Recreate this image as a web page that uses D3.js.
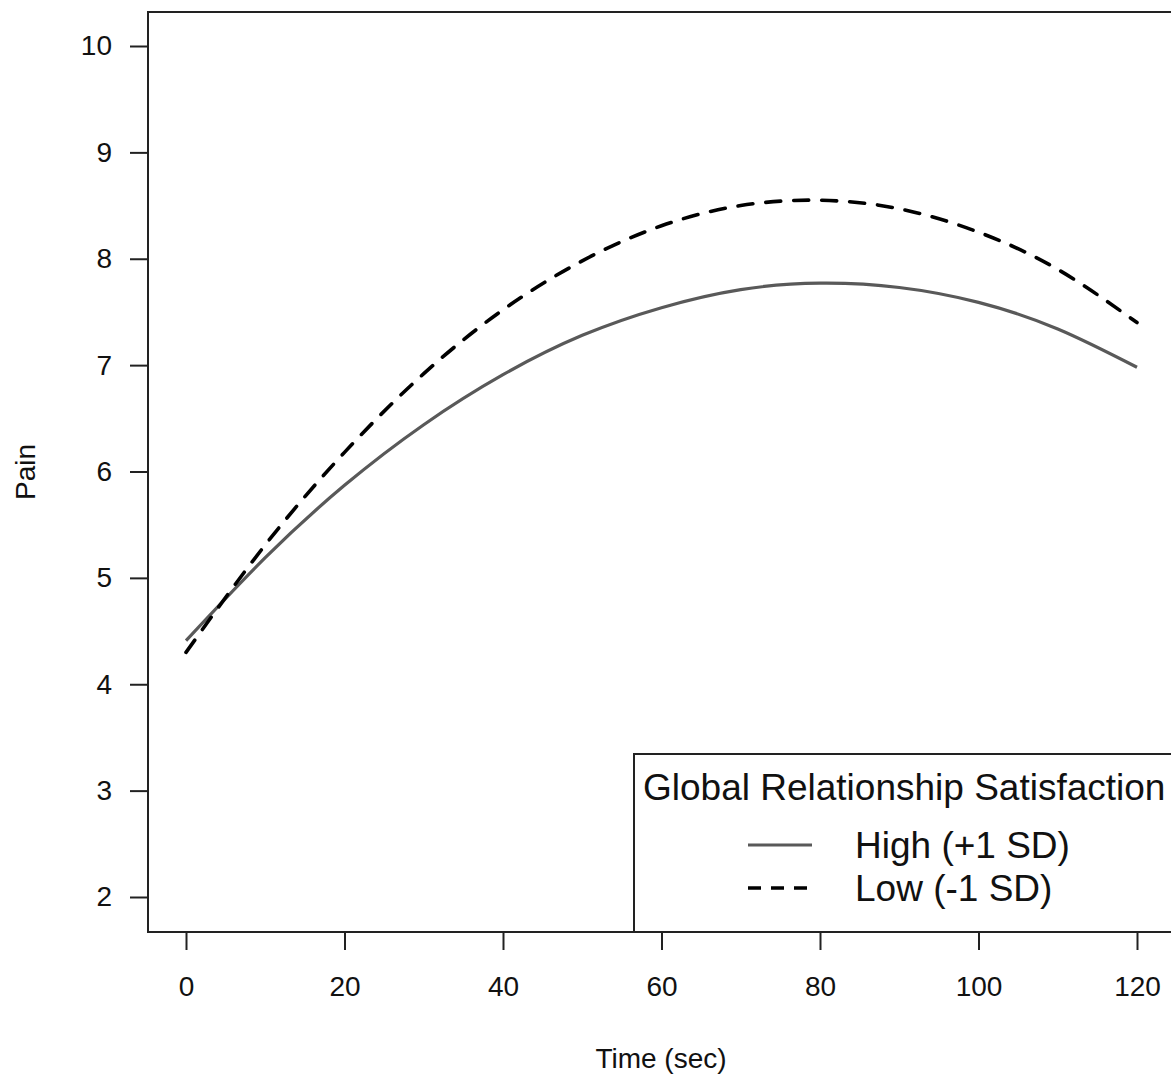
<html>
<script src='https://d3js.org/d3.v7.min.js'></script>
<style>
    body {
        margin: 0;
        overflow: hidden;
        background: white;
        font-family: 'Liberation Sans', Arial, sans-serif;
    }
</style>

<body>
    <svg id='chart' width=1171 height=1074></svg>
</body>

<script>
    // values, every 10 sec
    var times = [0, 10, 20, 30, 40, 50, 60, 70, 80, 90, 100, 110, 120];
    var highPain = [4.41, 5.19, 5.87, 6.44, 6.91, 7.28, 7.54, 7.71, 7.77, 7.73, 7.59, 7.34, 6.98];
    var lowPain = [4.30, 5.31, 6.18, 6.92, 7.52, 7.98, 8.31, 8.50, 8.55, 8.47, 8.25, 7.90, 7.40];
    var xTicks = [0, 20, 40, 60, 80, 100, 120];
    var yTicks = [2, 3, 4, 5, 6, 7, 8, 9, 10];
    var legendTitle = 'Global Relationship Satisfaction';
    var legendLabels = ['High (+1 SD)', 'Low (-1 SD)'];

    const boxLeft = 148, boxTop = 12, boxBottom = 932, boxRight = 1190;

    var svg = d3.select('#chart');

    var x = d3.scaleLinear().domain([0, 120]).range([186, 1137]);
    var y = d3.scaleLinear().domain([2, 10]).range([897, 46]);

    // plot frame
    svg.append('rect')
        .attr('x', boxLeft).attr('y', boxTop)
        .attr('width', boxRight - boxLeft).attr('height', boxBottom - boxTop)
        .attr('fill', 'none').attr('stroke', '#222').attr('stroke-width', 2);

    var xaxis = svg.append('g')
        .attr('transform', 'translate(0,' + boxBottom + ')')
        .call(d3.axisBottom(x).tickValues(xTicks).tickSize(18).tickPadding(26));
    xaxis.select('.domain').remove();

    var yaxis = svg.append('g')
        .attr('transform', 'translate(' + boxLeft + ',0)')
        .call(d3.axisLeft(y).tickValues(yTicks).tickSize(18).tickPadding(18));
    yaxis.select('.domain').remove();

    svg.selectAll('.tick line').attr('stroke', '#222').attr('stroke-width', 2);
    svg.selectAll('.tick text')
        .attr('font-family', "'Liberation Sans', Arial, sans-serif")
        .attr('font-size', 28).attr('fill', '#111');

    svg.append('text')
        .attr('x', 661).attr('y', 1068)
        .attr('text-anchor', 'middle')
        .attr('font-size', 28).attr('fill', '#111')
        .text('Time (sec)');

    svg.append('text')
        .attr('transform', 'translate(35,472)rotate(-90)')
        .attr('text-anchor', 'middle')
        .attr('font-size', 28).attr('fill', '#111')
        .text('Pain');

    var line = function(vals) {
        return d3.line()
            .x(function(d, i) { return x(times[i]); })
            .y(function(d) { return y(d); })
            .curve(d3.curveNatural)(vals);
    };

    svg.append('path')
        .attr('d', line(highPain))
        .attr('fill', 'none').attr('stroke', '#595959').attr('stroke-width', 3.2);

    svg.append('path')
        .attr('d', line(lowPain))
        .attr('fill', 'none').attr('stroke', '#000').attr('stroke-width', 3.6)
        .attr('stroke-dasharray', '15,13').attr('stroke-linecap', 'round');

    // legend
    var lg = svg.append('g');
    lg.append('rect')
        .attr('x', 634).attr('y', 754)
        .attr('width', 600).attr('height', boxBottom - 754)
        .attr('fill', 'white').attr('stroke', '#222').attr('stroke-width', 2);
    lg.append('text')
        .attr('x', 643).attr('y', 800)
        .attr('font-size', 37).attr('fill', '#111')
        .text(legendTitle);

    var styles = [
        { stroke: '#595959', dash: null, w: 3.2 },
        { stroke: '#000', dash: '13,10', w: 3.6 }
    ];
    legendLabels.forEach(function(lbl, i) {
        var yy = 845 + i * 43;
        lg.append('line')
            .attr('x1', 748).attr('x2', 812)
            .attr('y1', yy).attr('y2', yy)
            .attr('stroke', styles[i].stroke)
            .attr('stroke-width', styles[i].w)
            .attr('stroke-dasharray', styles[i].dash);
        lg.append('text')
            .attr('x', 855).attr('y', yy + 13)
            .attr('font-size', 37).attr('fill', '#111')
            .text(lbl);
    });
</script>

</html>
